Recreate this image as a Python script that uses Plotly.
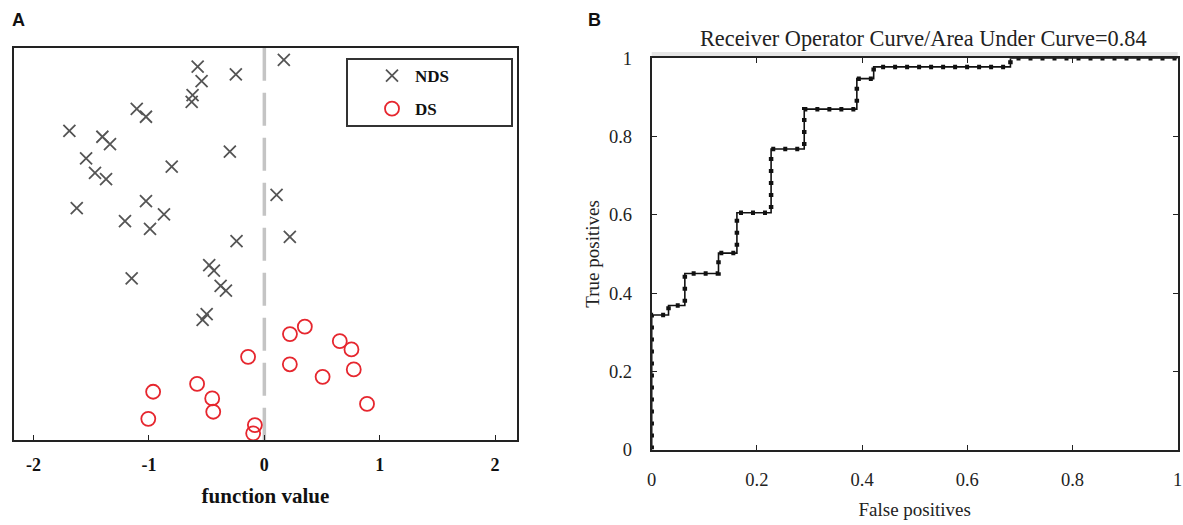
import plotly.graph_objects as go

# ---------------- Panel A data (discriminant function values, vertical jitter) ----------------
nds_x = [-0.578, -0.247, -0.544, -0.622, -0.630, -1.106, -1.026, -1.690, -1.404, -1.338,
         -0.299, -1.545, -0.803, -1.468, -1.372, -1.626, -1.026, -0.870, -1.208, -0.991,
         -0.241, 0.169, 0.106, 0.221, -1.150, -0.478, -0.437, -0.379, -0.333, -0.500, -0.535]
nds_y = [0.952, 0.932, 0.915, 0.879, 0.862, 0.844, 0.824, 0.788, 0.773, 0.754,
         0.735, 0.718, 0.697, 0.681, 0.665, 0.591, 0.609, 0.575, 0.558, 0.538,
         0.507, 0.969, 0.625, 0.518, 0.412, 0.446, 0.432, 0.393, 0.381, 0.321, 0.306]
ds_x = [-0.141, -0.583, -0.964, -0.452, -0.443, -1.006, -0.082, -0.097,
        0.222, 0.351, 0.654, 0.755, 0.221, 0.505, 0.775, 0.890]
ds_y = [0.212, 0.143, 0.123, 0.106, 0.072, 0.054, 0.038, 0.017,
        0.270, 0.289, 0.252, 0.231, 0.193, 0.161, 0.180, 0.092]
a_ticks = [-2, -1, 0, 1, 2]

# ---------------- Panel B data (ROC staircase vertices) ----------------
fpr = [0, 0, 0.032, 0.063, 0.127, 0.162, 0.227, 0.29, 0.39, 0.422, 0.682, 1.0]
tpr = [0, 0.344, 0.368, 0.45, 0.502, 0.605, 0.768, 0.87, 0.948, 0.978, 1.0, 1.0]
b_ticks = [0, 0.2, 0.4, 0.6, 0.8, 1]
b_ticktext = ["0", "0.2", "0.4", "0.6", "0.8", "1"]

W, H = 1183, 525
SERIF = "Liberation Serif, Times New Roman, serif"
SANS = "Liberation Sans, Arial, sans-serif"

fig = go.Figure()

fig.add_trace(go.Scatter(
    x=nds_x, y=nds_y, mode="markers", name="NDS", legendgroup="a",
    marker=dict(symbol="x-thin-open", size=12, color="#555",
                line=dict(color="#555", width=1.8)),
    xaxis="x", yaxis="y"))
fig.add_trace(go.Scatter(
    x=ds_x, y=ds_y, mode="markers", name="DS", legendgroup="b",
    marker=dict(symbol="circle-open", size=14, color="#e6262e",
                line=dict(color="#e6262e", width=1.8)),
    xaxis="x", yaxis="y", cliponaxis=False))

# ROC curve
fig.add_trace(go.Scatter(
    x=fpr, y=tpr, mode="lines", line=dict(shape="hv", color="#111", width=1.6),
    showlegend=False, xaxis="x2", yaxis="y2", cliponaxis=False))
fig.add_trace(go.Scatter(
    x=fpr, y=tpr, mode="lines", line=dict(shape="hv", color="#111", width=4.5, dash="4px,8px"),
    showlegend=False, xaxis="x2", yaxis="y2", cliponaxis=False))

fig.update_layout(
    width=W, height=H,
    margin=dict(l=0, r=0, t=0, b=0, autoexpand=False),
    paper_bgcolor="white", plot_bgcolor="white",
    showlegend=True,
    legend=dict(x=369 / W, y=1 - 58 / H, xanchor="left", yanchor="top",
                bgcolor="rgba(0,0,0,0)", borderwidth=0,
                font=dict(family=SERIF, size=17, color="#111", weight="bold"),
                tracegroupgap=8, itemwidth=36),
    xaxis=dict(domain=[14 / W, 517 / W], range=[-2.17, 2.19], automargin=False,
               showline=True, mirror=True, linecolor="#222", linewidth=2,
               showgrid=False, zeroline=False,
               ticks="inside", ticklen=5, tickcolor="#222", ticklabelstandoff=7,
               tickvals=a_ticks, ticktext=[str(t) for t in a_ticks],
               tickfont=dict(family=SERIF, size=18, color="#111", weight="bold"),
               title=dict(text="function value", standoff=15,
                          font=dict(family=SERIF, size=21, color="#111", weight="bold"))),
    yaxis=dict(domain=[1 - 440 / H, 1 - 47.7 / H], range=[0, 1], automargin=False,
               showline=True, mirror=True, linecolor="#222", linewidth=2,
               showgrid=False, zeroline=False, showticklabels=False, ticks=""),
    xaxis2=dict(domain=[651.7 / W, 1177.7 / W], range=[0, 1], anchor="y2", automargin=False,
                showline=True, mirror="allticks", linecolor="#222", linewidth=2,
                showgrid=False, zeroline=False, ticklabeloverflow="allow",
                ticks="inside", ticklen=5, tickcolor="#222", ticklabelstandoff=12,
                tickvals=b_ticks, ticktext=b_ticktext,
                tickfont=dict(family=SERIF, size=18.5, color="#222"),
                title=dict(text="False positives", standoff=14,
                           font=dict(family=SERIF, size=19, color="#222"))),
    yaxis2=dict(domain=[1 - 449.5 / H, 1 - 58.3 / H], range=[0, 1], anchor="x2", automargin=False,
                showline=True, mirror="allticks", linecolor="#222", linewidth=2,
                showgrid=False, zeroline=False, ticklabeloverflow="allow",
                ticks="inside", ticklen=5, tickcolor="#222", ticklabelstandoff=14,
                tickvals=b_ticks, ticktext=b_ticktext,
                tickfont=dict(family=SERIF, size=18.5, color="#222"),
                title=dict(text="True positives", standoff=4,
                           font=dict(family=SERIF, size=19, color="#222"))),
    shapes=[
        # dashed separator at function value 0
        dict(type="line", xref="x", yref="y domain", x0=0, x1=0, y0=1, y1=0,
             line=dict(color="#c4c4c4", width=3.5, dash="33px,12px"), layer="below"),
        # legend box
        dict(type="rect", xref="paper", yref="paper",
             x0=347 / W, x1=512 / W, y0=1 - 126 / H, y1=1 - 59 / H,
             line=dict(color="#333", width=2), fillcolor="rgba(0,0,0,0)"),
        # light band above panel B
        dict(type="rect", xref="paper", yref="paper",
             x0=651.7 / W, x1=1177.7 / W, y0=1 - 58 / H, y1=1 - 52 / H,
             line=dict(width=0), fillcolor="#e6e6e6", layer="below"),
    ],
    annotations=[
        dict(text="A", x=10 / W, y=1 - 20 / H, xref="paper", yref="paper",
             xanchor="left", yanchor="middle", showarrow=False,
             font=dict(family=SANS, size=18, color="#111", weight="bold")),
        dict(text="B", x=586 / W, y=1 - 20 / H, xref="paper", yref="paper",
             xanchor="left", yanchor="middle", showarrow=False,
             font=dict(family=SANS, size=18, color="#111", weight="bold")),
        dict(text="Receiver Operator Curve/Area Under Curve=0.84",
             x=923 / W, y=1 - 38 / H, xref="paper", yref="paper",
             xanchor="center", yanchor="middle", showarrow=False,
             font=dict(family=SERIF, size=22.3, color="#222")),
    ],
)

fig.write_html("out.html", config={"displayModeBar": False},
               post_script="document.body.style.margin='0px';")
